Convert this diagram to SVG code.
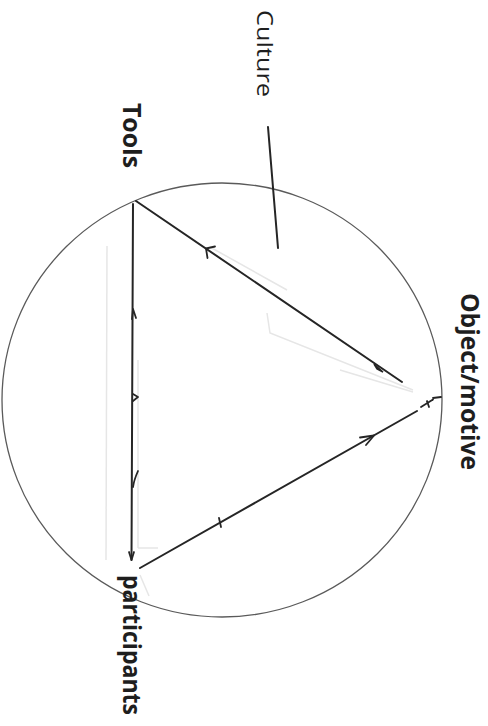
<svg xmlns="http://www.w3.org/2000/svg" width="488" height="726" viewBox="0 0 488 726">
  <style>
    .lbl { font-family: "Open Sans", "Liberation Sans", sans-serif; fill: #1e1e1e; }
    .bold { font-weight: bold; font-size: 25px; }
    .reg { font-size: 22px; }
    .edge { stroke: #252525; stroke-width: 2; fill: none; stroke-linecap: round; }
    .mark { stroke: #252525; stroke-width: 1.8; fill: none; stroke-linecap: round; stroke-linejoin: round; }
    .faint { stroke: #e6e6e6; stroke-width: 1.5; fill: none; }
    .ring { stroke: #5a5a5a; stroke-width: 1.3; fill: none; }
  </style>
  <rect width="488" height="726" fill="#ffffff"/>

  <g id="faint-traces">
    <line class="faint" x1="107" y1="246" x2="106" y2="560"/>
    <line class="faint" x1="138" y1="360" x2="138" y2="548"/>
    <line class="faint" x1="138" y1="548" x2="158" y2="548"/>
    <line class="faint" x1="210" y1="247" x2="287" y2="290"/>
    <polyline class="faint" points="267,313 270,333 413,390"/>
    <line class="faint" x1="340" y1="370" x2="413" y2="392"/>
    <line class="faint" x1="140" y1="575" x2="149" y2="596"/>
  </g>

  <g id="culture">
    <ellipse class="ring" cx="222" cy="400" rx="220" ry="217"/>
    <text class="lbl reg" transform="translate(257,10) rotate(90)" textLength="87" lengthAdjust="spacingAndGlyphs">Culture</text>
  </g>

  <g id="tools">
    <text class="lbl bold" transform="translate(123,103) rotate(90)" textLength="65" lengthAdjust="spacingAndGlyphs">Tools</text>
  </g>

  <g id="object">
    <text class="lbl bold" transform="translate(461,293) rotate(90)" textLength="177" lengthAdjust="spacingAndGlyphs">Object/motive</text>
  </g>

  <g id="participants">
    <text class="lbl bold" transform="translate(123,575) rotate(90)" textLength="140" lengthAdjust="spacingAndGlyphs">participants</text>
  </g>

  <g id="connectors">
    <!-- culture pointer -->
    <line class="edge" x1="268" y1="127" x2="278" y2="248"/>
    <!-- tools - object -->
    <line class="edge" x1="136" y1="201" x2="402" y2="382"/>
    <polyline class="mark" points="215,246.5 206,248.5 207.5,258"/>
    <polygon points="383,372 374,364 377,369" fill="#252525" stroke="#252525" stroke-width="1.5"/>
    <!-- object - participants -->
    <line class="edge" x1="417" y1="411" x2="140" y2="568"/>
    <polyline class="mark" points="360,437.5 374,435.5 366,445"/>
    <line class="mark" x1="219" y1="518" x2="221" y2="527"/>
    <!-- object tick mark -->
    <line class="mark" x1="421" y1="407" x2="433" y2="399.5"/>
    <line class="mark" x1="427" y1="401" x2="429" y2="407"/>
    <line class="mark" x1="433" y1="398" x2="441" y2="397"/>
    <!-- tools - participants -->
    <line class="edge" x1="133" y1="204" x2="131.5" y2="560"/>
    <polyline class="mark" points="132,319 133,309 136,318"/>
    <polyline class="mark" points="133,394 138,397 133,401"/>
    <path class="mark" d="M138,471 Q134,480 133,487"/>
    <polyline class="mark" points="129,552 131.5,560 134,552"/>
  </g>
</svg>
